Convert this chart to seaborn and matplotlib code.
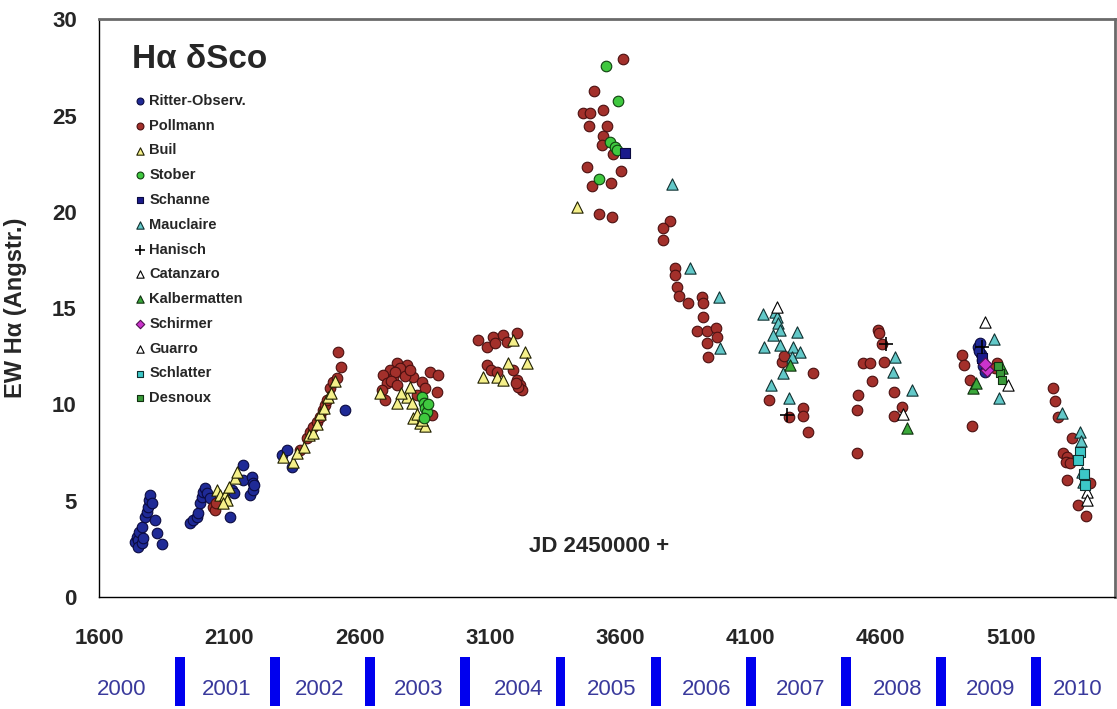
import matplotlib
matplotlib.use("Agg")
import matplotlib.pyplot as plt
import matplotlib.transforms as mtransforms
from matplotlib.patches import Rectangle
from matplotlib.ticker import MultipleLocator
from matplotlib import font_manager
import seaborn as sns

# ---------------- data (JD - 2450000, EW H-alpha in Angstrom) ----------------
ritter_jd = [1738, 1746, 1750, 1750, 1754, 1765, 1765, 1769, 1777, 1784, 1788, 1792, 1796, 1803, 1815, 1823, 1842,
             1949, 1961, 1976, 1980, 1988, 1995, 2000, 2007, 2015, 2026, 2103, 2111, 2118, 2153, 2153, 2187, 2191,
             2180, 2191, 2195,
             2303, 2322, 2341, 2544,
             4975, 4982, 4985, 4990, 4995, 5000, 4978]
ritter_ew = [2.86, 3.12, 2.96, 2.60, 3.38, 3.64, 2.81, 3.07, 4.16, 4.42, 4.68, 5.04, 5.30, 4.88, 4.00, 3.32, 2.75,
             3.84, 4.00, 4.16, 4.36, 4.88, 5.20, 5.46, 5.66, 5.40, 5.14, 4.16, 5.56, 5.40, 6.86, 6.08, 6.23, 5.92,
             5.30, 5.56, 5.80,
             7.38, 7.64, 6.75, 9.71,
             13.0, 13.2, 12.6, 12.3, 12.0, 11.7, 12.8]

pollmann_jd = [2038, 2045, 2050,
               2372, 2398, 2410, 2422, 2435, 2449, 2458, 2468, 2475, 2487, 2499, 2514, 2529, 2518,
               2744, 2782, 2717, 2763, 2690, 2729, 2706, 2687, 2698, 2806, 2840, 2871, 2901, 2897, 2852, 2878, 2821,
               2755, 2775, 2735, 2795, 2720, 2745,
               3055, 3089, 3113, 3151, 3204, 3120, 3166, 3089, 3105, 3128, 3189, 3204, 3216, 3224, 3210, 3200,
               3612, 3500, 3459, 3485, 3535, 3481, 3550, 3535, 3531, 3573, 3473, 3604, 3492, 3565, 3519, 3569,
               3792, 3765, 3765, 3811, 3811, 3819, 3827, 3861, 3915, 3919, 3919, 3896, 3934, 3969, 3973, 3934, 3938,
               4222, 4341, 4172, 4249, 4303, 4303, 4322, 4230,
               4591, 4595, 4606, 4533, 4560, 4614, 4568, 4514, 4510, 4652, 4683, 4652, 4510,
               4913, 4921, 4944, 4951, 5047, 5040,
               5262, 5270, 5282, 5335, 5301, 5316, 5310, 5328, 5316, 5404, 5358, 5389]
pollmann_ew = [4.68, 4.52, 4.90,
               7.64, 8.26, 8.55, 8.83, 9.10, 9.35, 9.70, 9.97, 10.23, 10.86, 11.17, 11.37, 11.95, 12.72,
               12.15, 12.05, 11.80, 11.70, 11.53, 11.37, 11.10, 10.75, 10.23, 11.42, 11.17, 11.69, 11.53, 10.65, 10.86,
               9.45, 10.49,
               11.90, 11.50, 11.70, 11.80, 11.20, 11.00,
               13.35, 12.99, 13.50, 13.60, 13.70, 13.20, 13.25, 12.05, 11.80, 11.70, 11.80, 11.27, 11.00, 10.75, 10.90,
               11.10,
               27.95, 26.30, 25.14, 25.14, 25.30, 24.47, 24.47, 23.95, 23.50, 23.00, 22.35, 22.13, 21.36, 21.50, 19.90,
               19.74,
               19.53, 19.17, 18.55, 17.09, 16.73, 16.10, 15.63, 15.27, 15.58, 15.27, 14.55, 13.82, 13.82, 13.97, 13.50,
               13.20, 12.47,
               12.21, 11.63, 10.23, 9.35, 9.82, 9.40, 8.57, 12.50,
               13.87, 13.70, 13.14, 12.14, 12.14, 12.21, 11.22, 10.49, 9.71, 10.65, 9.87, 9.40, 7.48,
               12.57, 12.05, 11.27, 8.88, 12.16, 11.90,
               10.86, 10.18, 9.35, 8.26, 7.48, 7.27, 7.00, 6.96, 6.08, 5.92, 4.78, 4.20]

buil_jd = [2053, 2065, 2084, 2091, 2076, 2122, 2130, 2100,
           2306, 2345, 2360, 2385, 2405, 2420, 2435, 2450, 2465, 2480, 2490, 2505,
           2679, 2744, 2782, 2801, 2794, 2806, 2832, 2852, 2820, 2840, 2760,
           3189, 3235, 3243, 3170, 3074, 3128, 3151,
           3435]
buil_ew = [5.56, 5.30, 5.30, 5.04, 4.88, 6.20, 6.50, 5.70,
           7.27, 7.00, 7.50, 7.80, 8.40, 8.50, 9.00, 9.50, 9.80, 10.40, 10.60, 11.20,
           10.60, 10.07, 10.40, 10.10, 10.90, 9.30, 9.04, 8.90, 9.50, 9.20, 10.60,
           13.35, 12.73, 12.15, 12.15, 11.42, 11.42, 11.27,
           20.26]

stober_jd = [3546, 3593, 3562, 3581, 3590, 3519, 2838, 2846, 2852, 2858, 2848, 2862]
stober_ew = [27.58, 25.76, 23.65, 23.40, 23.20, 21.70, 10.40, 10.10, 9.80, 9.60, 9.30, 10.00]

schanne_jd = [3619, 4990]
schanne_ew = [23.07, 12.40]

mauclaire_jd = [3800, 3869, 3980, 3984, 4149, 4195, 4203, 4207, 4214, 4187, 4153, 4214, 4280, 4264, 4291, 4260,
                4226, 4180, 4249, 4656, 4648, 4721, 5036, 5055, 5297, 5366, 5374, 5378, 5370]
mauclaire_ew = [21.45, 17.09, 15.58, 12.94, 14.70, 14.80, 14.55, 14.23, 13.87, 13.60, 12.99, 13.10, 13.77, 12.99,
                12.73, 12.47, 11.63, 11.00, 10.33, 12.47, 11.69, 10.75, 13.40, 10.33, 9.56, 8.57, 6.49, 5.97, 8.10]

hanisch_jd = [4241, 4621, 4990]
hanisch_ew = [9.45, 13.14, 13.00]

catanzaro_jd = [4203, 4687, 5089]
catanzaro_ew = [15.07, 9.50, 11.00]

kalbermatten_jd = [4253, 4702, 4955, 5066, 4965]
kalbermatten_ew = [12.05, 8.78, 10.86, 11.90, 11.10]

schirmer_jd = [5009, 5000]
schirmer_ew = [11.80, 12.10]

guarro_jd = [5001, 5393, 5393]
guarro_ew = [14.28, 5.46, 5.04]

schlatter_jd = [5366, 5358, 5380, 5385]
schlatter_ew = [7.53, 7.12, 6.40, 5.80]

desnoux_jd = [5059, 5066, 5050]
desnoux_ew = [11.63, 11.27, 12.00]

series_names = ["Ritter-Observ.", "Pollmann", "Buil", "Stober", "Schanne", "Mauclaire", "Hanisch",
                "Catanzaro", "Kalbermatten", "Schirmer", "Guarro", "Schlatter", "Desnoux"]
series_x = [ritter_jd, pollmann_jd, buil_jd, stober_jd, schanne_jd, mauclaire_jd, hanisch_jd,
            catanzaro_jd, kalbermatten_jd, schirmer_jd, guarro_jd, schlatter_jd, desnoux_jd]
series_y = [ritter_ew, pollmann_ew, buil_ew, stober_ew, schanne_ew, mauclaire_ew, hanisch_ew,
            catanzaro_ew, kalbermatten_ew, schirmer_ew, guarro_ew, schlatter_ew, desnoux_ew]

x_ticks = [1600, 2100, 2600, 3100, 3600, 4100, 4600, 5100]
y_ticks = [0, 5, 10, 15, 20, 25, 30]

year_labels = ["2000", "2001", "2002", "2003", "2004", "2005", "2006", "2007", "2008", "2009", "2010"]
year_label_jd = [1688, 2091, 2448, 2825, 3209, 3566, 3934, 4295, 4667, 5024, 5355]
year_start_jd = [1910.5, 2275.5, 2640.5, 3005.5, 3371.5, 3736.5, 4101.5, 4466.5, 4832.5, 5197.5]

# ---------------- styles ----------------
styles = [
    dict(marker="o", color="#1f2a96", edgecolor="#0a0a40", s=58),
    dict(marker="o", color="#a3302b", edgecolor="#4a1010", s=58),
    dict(marker="^", color="#f5f08a", edgecolor="#202000", s=66),
    dict(marker="o", color="#3fc83f", edgecolor="#104010", s=58),
    dict(marker="s", color="#1a1a8c", edgecolor="#0a0a40", s=52),
    dict(marker="^", color="#62c8c8", edgecolor="#103030", s=66),
    dict(marker="+", color="#000000", s=100),
    dict(marker="^", color="#ffffff", edgecolor="#000000", s=66),
    dict(marker="^", color="#3aa83a", edgecolor="#103010", s=66),
    dict(marker="D", color="#cc33cc", edgecolor="#501050", s=44),
    dict(marker="^", color="#ffffff", edgecolor="#000000", s=66),
    dict(marker="s", color="#3cc8c8", edgecolor="#103030", s=52),
    dict(marker="s", color="#3a9a3a", edgecolor="#103010", s=34),
]

sns.set_style("white")
plt.rcParams['font.family'] = ['Liberation Sans', 'DejaVu Sans']
available = {f.name for f in font_manager.fontManager.ttflist}
legend_family = 'Liberation Sans Narrow' if 'Liberation Sans Narrow' in available else 'Liberation Sans'
legend_size = 13 if legend_family == 'Liberation Sans Narrow' else 10.5

fig = plt.figure(figsize=(11.17, 7.09), dpi=100)
ax = fig.add_axes([0.08863, 0.15797, 0.90958, 0.81453])

for name, xs, ys, st in zip(series_names, series_x, series_y, styles):
    kw = dict(marker=st["marker"], s=st["s"], color=st["color"], label=name)
    if st["marker"] == "+":
        kw["linewidth"] = 1.2
    else:
        kw["edgecolor"] = st["edgecolor"]
        kw["linewidth"] = 0.8
    sns.scatterplot(x=xs, y=ys, ax=ax, legend=False, zorder=3, **kw)

ax.set_xlim(1600, 5500)
ax.set_ylim(0, 30)
ax.set_xticks(x_ticks)
ax.set_yticks(y_ticks)
ax.xaxis.set_minor_locator(MultipleLocator(100))
ax.yaxis.set_minor_locator(MultipleLocator(1))
ax.tick_params(axis="both", which="both", direction="in", color="black", width=0.9)
ax.tick_params(axis="both", which="major", length=7)
ax.tick_params(axis="both", which="minor", length=4)
ax.tick_params(axis="x", which="major", pad=22, labelsize=16)
ax.tick_params(axis="y", which="major", pad=16, labelsize=16)
for lab in ax.get_xticklabels() + ax.get_yticklabels():
    lab.set_fontweight("bold")

for side in ["left", "bottom"]:
    ax.spines[side].set_color("black")
    ax.spines[side].set_linewidth(1.0)
for side in ["top", "right"]:
    ax.spines[side].set_color("#6a6a6a")
    ax.spines[side].set_linewidth(2.0)

ax.set_xlabel("")
ax.set_ylabel("EW H\u03b1 (Angstr.)", fontsize=17, fontweight="bold")
ax.yaxis.set_label_coords(-0.071, 0.50)

ax.text(0.0325, 0.930, "H\u03b1 \u03b4Sco", transform=ax.transAxes, fontsize=24,
        fontweight="bold", ha="left", va="center")
ax.text(0.492, 0.087, "JD 2450000 +", transform=ax.transAxes, fontsize=16,
        fontweight="bold", ha="center", va="center")

leg = ax.legend(loc="upper left", bbox_to_anchor=(0.0285, 0.884), frameon=False,
                handlelength=0.7, handletextpad=0.25, labelspacing=0.74, borderpad=0,
                markerscale=0.65, prop=dict(family=legend_family, weight="bold", size=legend_size))

trans = mtransforms.blended_transform_factory(ax.transData, ax.transAxes)
for xb in year_start_jd:
    ax.add_patch(Rectangle((xb - 19, -0.1887), 38, 0.0848, transform=trans,
                           facecolor="#0000ee", edgecolor="none", clip_on=False))
for lab, xl in zip(year_labels, year_label_jd):
    ax.text(xl, -0.161, lab, transform=trans, fontsize=16, color="#3a3a9c",
            ha="center", va="center", clip_on=False)

fig.savefig("out.png", dpi=100, facecolor="white")
